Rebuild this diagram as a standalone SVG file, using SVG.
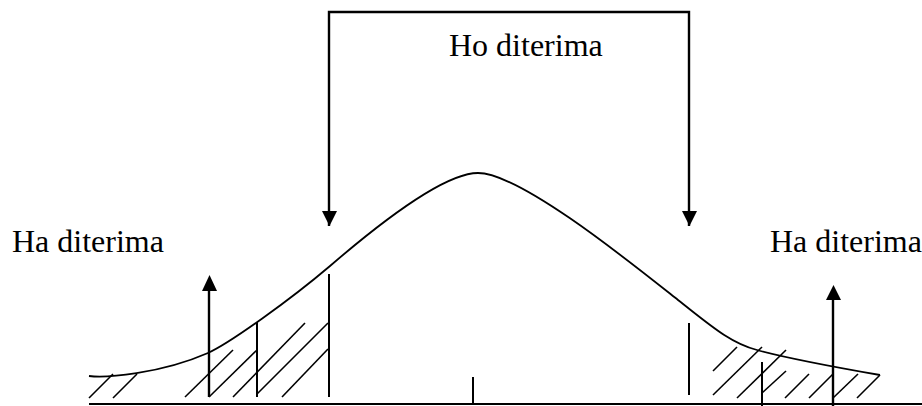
<svg xmlns="http://www.w3.org/2000/svg" width="922" height="406" viewBox="0 0 922 406">
<defs>
<style>
.ln{stroke:#000;fill:none;stroke-linecap:butt}
.hatch{stroke:#000;stroke-width:1.6;fill:none}
.v{stroke:#000;stroke-width:2;fill:none}
.arr{stroke:#000;stroke-width:2.4;fill:none}
.lbl{font-family:"Liberation Serif","Times New Roman",serif;font-size:32px;fill:#000}
</style>
<marker id="ah" viewBox="0 0 10 10" refX="10" refY="5" markerWidth="6.3" markerHeight="6.3" markerUnits="strokeWidth" orient="auto">
<path d="M0,0 L10,5 L0,10 Z" fill="#000"/>
</marker>
</defs>
<rect width="922" height="406" fill="#fff"/>

<g id="axis">
<line class="ln" x1="89" y1="404" x2="922" y2="404" stroke-width="2"/>
<line class="ln" x1="473" y1="377" x2="473" y2="403" stroke-width="2"/>
</g>

<g id="curve">
<path class="ln" stroke-width="1.8" d="M89 376 C105 378 160 374 208 353 C230 343 290 300 330 266 C366 235 440 173 478 173 C520 173 630 262 678 300 C710 325 730 343 757 350 C790 359 840 368 880 375"/>
</g>

<g id="left-region">
<line class="v" x1="257" y1="322" x2="257" y2="397"/>
<line class="v" x1="329" y1="274" x2="329" y2="397"/>
<line class="hatch" x1="89" y1="398" x2="113" y2="374"/>
<line class="hatch" x1="113" y1="398" x2="137" y2="374"/>
<line class="hatch" x1="185" y1="397" x2="233" y2="350"/>
<line class="hatch" x1="209" y1="397" x2="257" y2="350"/>
<line class="hatch" x1="233" y1="397" x2="305" y2="323"/>
<line class="hatch" x1="257" y1="394" x2="328" y2="323"/>
<line class="hatch" x1="282" y1="397" x2="328" y2="349"/>
</g>

<g id="right-region">
<line class="v" x1="689" y1="323" x2="689" y2="395"/>
<line class="v" x1="762" y1="362" x2="762" y2="406"/>
<line class="hatch" x1="713" y1="371" x2="737" y2="347"/>
<line class="hatch" x1="713" y1="395" x2="762" y2="347"/>
<line class="hatch" x1="737" y1="398" x2="786" y2="350"/>
<line class="hatch" x1="762" y1="393" x2="786" y2="371"/>
<line class="hatch" x1="785" y1="398" x2="809" y2="374"/>
<line class="hatch" x1="809" y1="398" x2="833" y2="374"/>
<line class="hatch" x1="833" y1="398" x2="858" y2="374"/>
<line class="hatch" x1="857" y1="398" x2="880" y2="375"/>
</g>

<g id="ho-label">
<text class="lbl" x="449" y="56">Ho diterima</text>
</g>
<g id="ha-left-label">
<text class="lbl" x="12" y="252">Ha diterima</text>
</g>
<g id="ha-right-label">
<text class="lbl" x="770" y="252">Ha diterima</text>
</g>

<g id="connectors">
<path class="arr" d="M329 226 L329 12 L689 12 L689 226" stroke-width="2.2"/>
<path d="M322 211 L337 211 L329.5 226 Z" fill="#000"/>
<path d="M682 211 L697 211 L689.5 226 Z" fill="#000"/>
<line class="arr" x1="209" y1="397" x2="209" y2="290"/>
<path d="M202 291 L217 291 L209.5 275 Z" fill="#000"/>
<line class="arr" x1="833" y1="406" x2="833" y2="299"/>
<path d="M826 300 L841 300 L833.5 285 Z" fill="#000"/>
</g>
</svg>
